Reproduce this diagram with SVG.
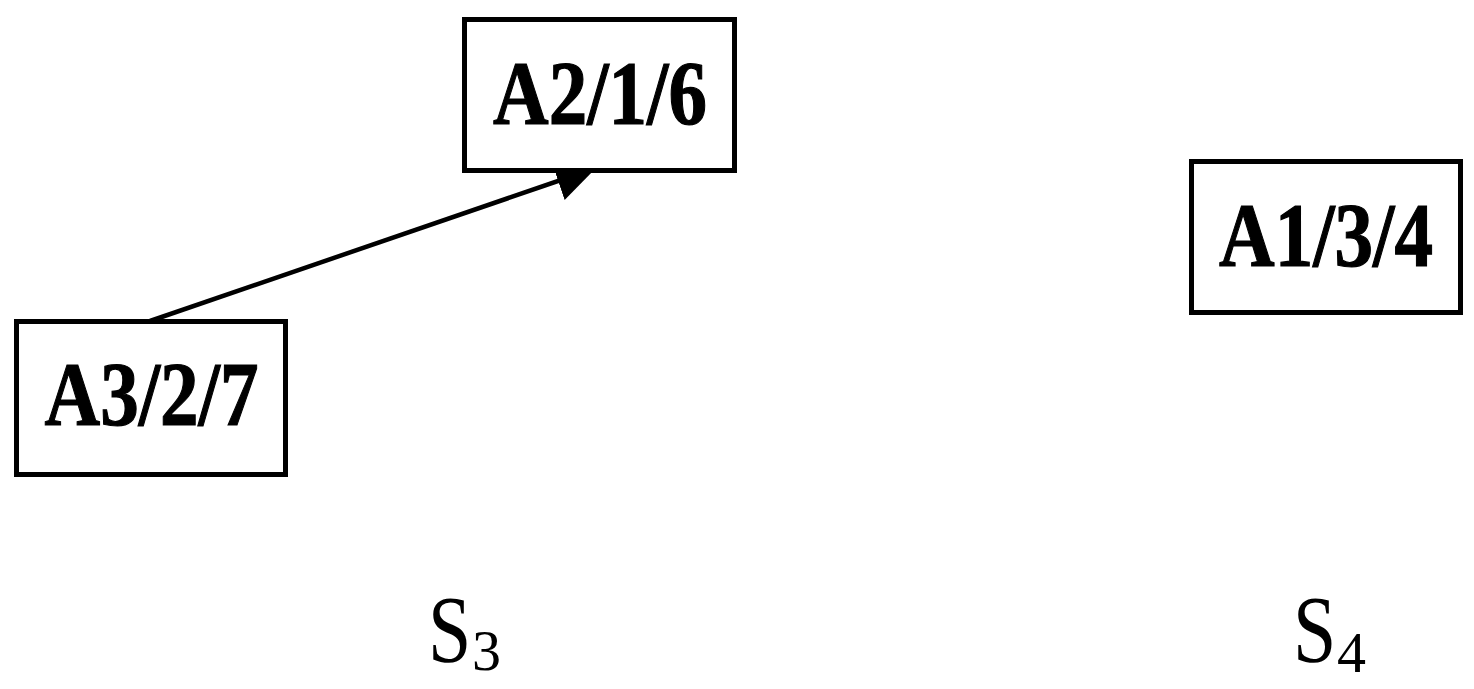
<svg xmlns="http://www.w3.org/2000/svg" width="1474" height="689" viewBox="0 0 1474 689">
  <style>
    .box { fill: #ffffff; stroke: #000000; stroke-width: 5; }
    .lbl { font-family: "Liberation Serif", "Times New Roman", serif; font-weight: bold; font-size: 91px; fill: #000000; stroke: #000000; stroke-width: 1.2; text-anchor: middle; }
    .s { font-family: "Liberation Serif", "Times New Roman", serif; font-size: 95px; fill: #000000; }
    .sub { font-family: "Liberation Serif", "Times New Roman", serif; font-size: 58px; fill: #000000; }
    .conn { stroke: #000000; stroke-width: 4.5; fill: none; }
  </style>
  <defs>
    <marker id="arrow" viewBox="0 0 40 40" refX="40" refY="20" markerWidth="40" markerHeight="40" markerUnits="userSpaceOnUse" orient="auto">
      <path d="M0,0 L40,20 L0,40 z" fill="#000000"/>
    </marker>
  </defs>
  <rect width="1474" height="689" fill="#ffffff"/>
  <g id="connectors">
    <line class="conn" x1="150" y1="321" x2="596" y2="168" marker-end="url(#arrow)"/>
  </g>
  <g id="node-A2-1-6">
    <rect class="box" x="464.5" y="19.5" width="270" height="151"/>
    <text class="lbl" x="600" y="124" textLength="214" lengthAdjust="spacingAndGlyphs">A2/1/6</text>
  </g>
  <g id="node-A3-2-7">
    <rect class="box" x="16.5" y="321.5" width="269" height="153"/>
    <text class="lbl" x="151.5" y="425" textLength="214" lengthAdjust="spacingAndGlyphs">A3/2/7</text>
  </g>
  <g id="node-A1-3-4">
    <rect class="box" x="1191.5" y="161.5" width="269" height="151"/>
    <text class="lbl" x="1326" y="266" textLength="214" lengthAdjust="spacingAndGlyphs">A1/3/4</text>
  </g>
  <g id="label-S3">
    <text class="s" transform="translate(428,662) scale(0.82,1)">S</text>
    <text class="sub" x="472" y="670">3</text>
  </g>
  <g id="label-S4">
    <text class="s" transform="translate(1293,662) scale(0.82,1)">S</text>
    <text class="sub" x="1337" y="672">4</text>
  </g>
</svg>
